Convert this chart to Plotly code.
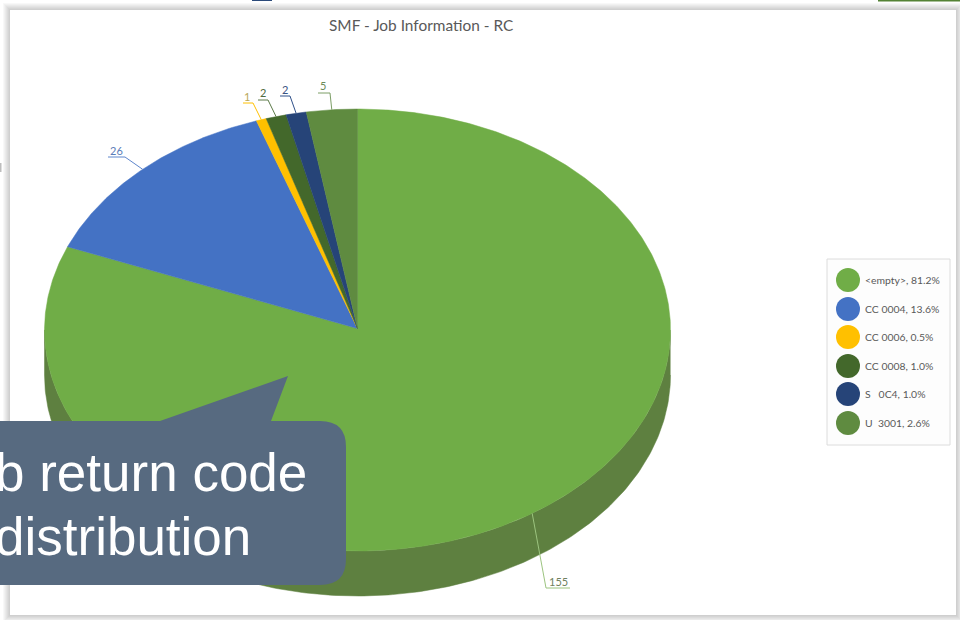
import numpy as np
import plotly.graph_objects as go

# Job return codes and how many jobs ended with each
codes = ["<empty>", "CC 0004", "CC 0006", "CC 0008", "S\u00a0\u00a0\u00a00C4", "U\u00a0\u00a03001"]
counts = [155, 26, 1, 2, 2, 5]
colors = ["#70AD47", "#4472C4", "#FFC000", "#43682B", "#264478", "#5F8B40"]
label_colors = ["#6F8060", "#5B7DB8", "#B9A75A", "#4F6B40", "#3B5583", "#6C8A58"]
leader_colors = ["#9CC47F", "#5E86CC", "#FFC000", "#5C7A48", "#2F5089", "#7C9E66"]

title_text = "SMF - Job Information - RC"
callout_lines = ["b return code", "distribution"]

# Tilted-pie geometry in canvas pixels
CX, CY, RX, RY, DEPTH = 357.5, 330.0, 313.0, 221.0, 45.0
SIDE_COLOR = "#5E8040"

# Leader elbow and end of the shelf, plus label anchor, per slice
elbows = [(546, 588), (125, 157), (253, 103), (268, 100), (290, 96), (330, 93)]
shelves = [(570, 588), (108, 157), (243, 103), (258, 100), (280, 96), (318, 93)]
label_pos = [(558, 581), (116, 150), (247, 96), (263, 92), (285, 89), (323, 85)]

legend_x, legend_text_x = 848, 863
legend_y = [280, 309, 337, 366, 394, 423]


def rim(theta, dy=0.0):
    return CX + RX * np.sin(theta), CY - RY * np.cos(theta) + dy


fig = go.Figure()
total = sum(counts)
edges = 2 * np.pi * np.cumsum([0] + counts) / total

# Visible wall of the pie: front half of the rim, extruded downward
front = np.linspace(np.pi / 2, 3 * np.pi / 2, 240)
fx, fy = rim(front)
bx, by = rim(front[::-1], DEPTH)
fig.add_trace(go.Scatter(x=np.r_[fx, bx], y=np.r_[fy, by], mode="lines", fill="toself",
                         fillcolor=SIDE_COLOR, line=dict(color=SIDE_COLOR, width=0.5),
                         hoverinfo="skip"))

# Top face, one wedge per return code
for i, (count, color) in enumerate(zip(counts, colors)):
    a = np.linspace(edges[i], edges[i + 1], max(3, int(count * 4)))
    x, y = rim(a)
    fig.add_trace(go.Scatter(x=np.r_[CX, x, CX], y=np.r_[CY - 1.5, y, CY - 1.5], mode="lines",
                             fill="toself", fillcolor=color, line=dict(color=color, width=0.5),
                             name=codes[i], text=str(count), hoverinfo="name+text"))

# Leader lines from each wedge's rim midpoint to its value label
for i, count in enumerate(counts):
    sx, sy = rim((edges[i] + edges[i + 1]) / 2)
    fig.add_trace(go.Scatter(x=[float(sx), elbows[i][0], shelves[i][0]],
                             y=[float(sy), elbows[i][1], shelves[i][1]],
                             mode="lines", line=dict(color=leader_colors[i], width=1),
                             hoverinfo="skip"))
    fig.add_annotation(x=label_pos[i][0], y=label_pos[i][1], text=str(count), showarrow=False,
                       font=dict(family="Lato", size=11, color=label_colors[i]))

# Legend swatches and labels
fig.add_trace(go.Scatter(x=[legend_x] * len(codes), y=legend_y, mode="markers",
                         marker=dict(size=24, color=colors), hoverinfo="skip"))
for name, count, y in zip(codes, counts, legend_y):
    fig.add_annotation(x=legend_text_x, y=y, xanchor="left", showarrow=False,
                       text=f"{name}, {100 * count / total:.1f}%",
                       font=dict(family="Lato", size=10.4, color="#595959"))

fig.add_annotation(x=421, y=25, text=title_text, showarrow=False,
                   font=dict(family="Lato", size=15.4, color="#595959"))

# Panel with a soft drop shadow behind the chart
shapes = []
for grow in range(7, 0, -1):
    shapes.append(dict(type="rect", x0=10 - grow, y0=10 - grow, x1=956 + grow, y1=615 + grow,
                       fillcolor="rgba(0,0,0,0.028)", line_width=0, layer="below"))
shapes.append(dict(type="rect", x0=10, y0=10, x1=956, y1=615, fillcolor="white",
                   line_width=0, layer="below"))
# Legend frame
shapes.append(dict(type="rect", x0=827, y0=259, x1=950, y1=445, fillcolor="#FDFDFD",
                   line=dict(color="#DCDCDC", width=1), layer="below"))
# Speech-bubble callout
shapes.append(dict(
    type="path", layer="above", line_width=0, fillcolor="#576A80",
    path="M 0 421 L 160 421 L 288 376 L 271 421 L 320 421 Q 346 421 346 447 "
         "L 346 559 Q 346 585 320 585 L 0 585 Z"))
# Slivers of neighbouring window content along the edges
shapes.append(dict(type="rect", x0=878, y0=0, x1=960, y1=1.5, fillcolor="#548235", line_width=0))
shapes.append(dict(type="rect", x0=252, y0=0, x1=272, y1=1, fillcolor="#2B4A7A", line_width=0))
shapes.append(dict(type="rect", x0=0, y0=163, x1=1.5, y1=172, fillcolor="#BDBDBD", line_width=0))

fig.add_annotation(x=308.5, y=472, xanchor="right", text=callout_lines[0], showarrow=False,
                   font=dict(family="Liberation Sans", size=53, color="white"))
fig.add_annotation(x=253, y=536, xanchor="right", text=callout_lines[1], showarrow=False,
                   font=dict(family="Liberation Sans", size=53, color="white"))

fig.update_layout(
    width=960, height=620, margin=dict(l=0, r=0, t=0, b=0), showlegend=False,
    paper_bgcolor="white", plot_bgcolor="rgba(0,0,0,0)", shapes=shapes,
    xaxis=dict(range=[0, 960], visible=False, fixedrange=True),
    yaxis=dict(range=[620, 0], visible=False, fixedrange=True),
)
fig.write_html("out.html")
